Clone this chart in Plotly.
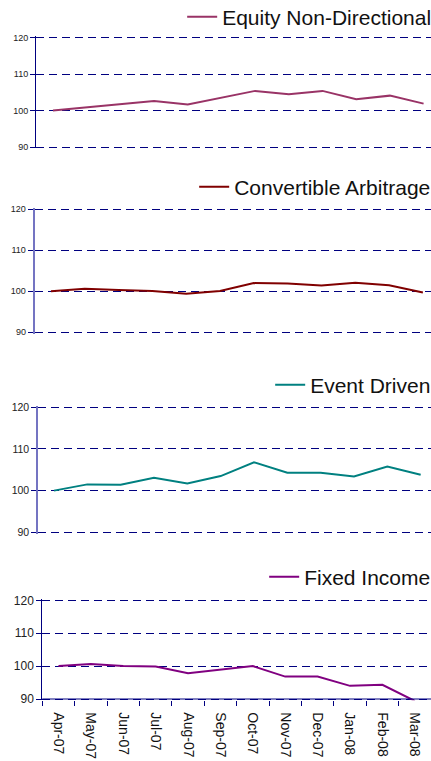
import plotly.graph_objects as go

months = ["Apr-07", "May-07", "Jun-07", "Jul-07", "Aug-07", "Sep-07",
          "Oct-07", "Nov-07", "Dec-07", "Jan-08", "Feb-08", "Mar-08"]
equity_nd = [100, 100.9, 101.7, 102.6, 101.7, 103.6, 105.4, 104.5, 105.4, 103.1, 104.1, 101.9]
convertible_arb = [100, 100.6, 100.3, 100.1, 99.4, 100.1, 102.0, 101.9, 101.4, 102.1, 101.5, 99.7]
event_driven = [100, 101.5, 101.4, 103.1, 101.7, 103.5, 106.8, 104.3, 104.3, 103.4, 105.8, 103.8]
fixed_income = [100, 100.6, 100.0, 99.9, 97.8, 98.9, 100.0, 96.8, 96.8, 94.0, 94.3, 89.4]
y_ticks = [90, 100, 110, 120]

FONT = "Arial, Liberation Sans, sans-serif"
NAVY = "#000080"
W, H = 431, 761

series = [
    ("Equity Non-Directional", equity_nd, "#993366"),
    ("Convertible Arbitrage", convertible_arb, "#800000"),
    ("Event Driven", event_driven, "#008080"),
    ("Fixed Income", fixed_income, "#800080"),
]

# pixel positions of the 120 and 90 levels for each panel (from top)
px_120 = [37.7, 209.3, 407.3, 600.3]
px_90 = [147.0, 332.3, 532.3, 699.0]
pad = 0.4  # extend y range slightly so edge gridlines are drawn
y_range = [90 - pad, 120 + pad]

x_domains = [[0.0835, 1.0], [0.0805, 1.0], [0.0889, 1.0], [0.0981, 1.0]]
x_ranges = [[-0.504, 11.22], [-0.48, 11.24], [-0.47, 11.31], [-0.5, 11.5]]
tick_sizes = [9, 9, 10.5, 12]
axis_line_colors = [NAVY, "#7474c2", "#7474c2", NAVY]
axis_line_widths = [1, 2, 2, 1]
legend_y = [17, 187, 385, 577]

fig = go.Figure()
layout = dict(
    width=W, height=H, autosize=False,
    margin=dict(l=0, r=0, t=0, b=0, pad=0, autoexpand=False),
    paper_bgcolor="white", plot_bgcolor="white",
    font=dict(family=FONT, color="#222222"),
)

for i, (name, vals, color) in enumerate(series):
    n = i + 1
    sfx = "" if n == 1 else str(n)
    leg = "legend" if n == 1 else f"legend{n}"
    fig.add_trace(go.Scatter(
        x=months, y=vals, mode="lines", name=name,
        line=dict(color=color, width=2),
        xaxis=f"x{sfx}", yaxis=f"y{sfx}", legend=leg,
        showlegend=True,
    ))
    last = (n == 4)
    ppu = (px_90[i] - px_120[i]) / 30.0
    top_px = px_120[i] - pad * ppu
    bot_px = px_90[i] + pad * ppu
    ydom = [1 - bot_px / H, 1 - top_px / H]
    layout[f"xaxis{sfx}"] = dict(
        domain=x_domains[i], anchor=f"y{sfx}", type="category",
        range=x_ranges[i], showgrid=False, zeroline=False,
        showline=False, ticks="", showticklabels=False,
        automargin=False, fixedrange=True,
    )
    if last:
        layout[f"xaxis{sfx}"].update(dict(
            ticks="outside", tickson="boundaries", ticklen=5, tickcolor=NAVY,
            showticklabels=True, tickangle=90, ticklabelstandoff=11,
            tickfont=dict(family=FONT, size=14, color="#111111"),
        ))
    layout[f"yaxis{sfx}"] = dict(
        domain=ydom, anchor=f"x{sfx}",
        range=y_range, tickvals=y_ticks,
        showgrid=True, gridcolor=NAVY, gridwidth=1, griddash="8px,5px",
        zeroline=False, showline=True,
        linecolor=axis_line_colors[i], linewidth=axis_line_widths[i],
        ticks="outside", ticklen=5, tickcolor=NAVY,
        tickfont=dict(family=FONT, size=tick_sizes[i], color="#222222"),
        automargin=False, fixedrange=True,
    )
    layout[leg] = dict(
        x=1.012, xanchor="right", y=1 - legend_y[i] / H, yanchor="middle",
        bgcolor="rgba(0,0,0,0)", borderwidth=0,
        font=dict(family=FONT, size=21, color="#111111"),
        itemclick=False, itemdoubleclick=False,
    )

fig.update_layout(**layout)

# solid x-axis line at the 90 level of the bottom panel
fig.add_shape(type="line", xref="x4 domain", yref="y4", x0=0, x1=1, y0=90, y1=90,
              line=dict(color=NAVY, width=1), layer="above")

fig.write_html(
    "out.html",
    config={"displayModeBar": False},
    post_script="document.body.style.margin='0';document.body.style.overflow='hidden';",
)
